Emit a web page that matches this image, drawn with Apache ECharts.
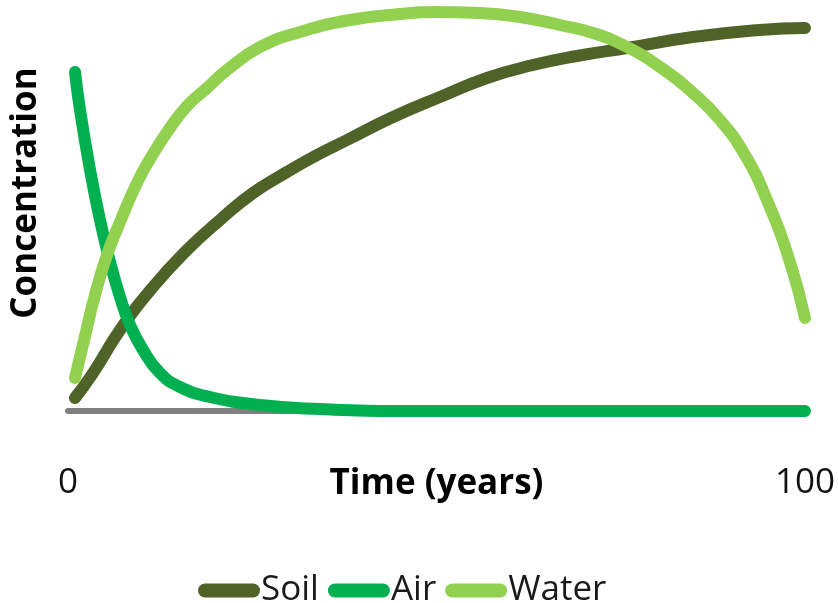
<!DOCTYPE html>
<html>
<head>
<meta charset="utf-8">
<script src="https://cdn.jsdelivr.net/npm/echarts@6/dist/echarts.min.js"></script>
<style>
html,body{margin:0;padding:0;background:#fff;}
#chart{width:838px;height:603px;}
</style>
</head>
<body>
<div id="chart"></div>
<script>
// Data (time in years, relative concentration 0-100)
const seriesNames = ['Soil', 'Air', 'Water'];
const xTicks = [0, 100];

const soilT = [0.95, 3.4, 7.06, 11.53, 16.15, 20.62, 25.1, 29.72, 33.79, 37.86, 44.1, 50.47, 56.85, 63.09, 69.06, 75.85, 84.8, 93.9, 100];
const soilV = [3.25, 9.5, 20.25, 31, 40.25, 47.75, 54.5, 59.75, 64, 67.75, 73.5, 78.5, 83.25, 86.5, 88.75, 90.75, 93.5, 95.25, 95.75];

const airT = [0.95, 1.63, 2.99, 4.34, 5.7, 7.06, 8.41, 10.18, 12.48, 15.2, 19.27, 26.05, 34.19, 45.05, 70, 100];
const airV = [84.75, 75.25, 60.25, 47.75, 37.25, 28.5, 21.5, 15.25, 9.5, 6, 3.5, 1.5, 0.5, 0, 0, 0];

const waterT = [0.95, 2.31, 3.66, 5.29, 7.06, 9.36, 11.53, 13.84, 16.15, 18.86, 21.57, 26.05, 31.48, 38.26, 45.05, 49.53, 55.9, 61.33, 66.76, 71.23, 75.85, 80.33, 84.8, 88.47, 91.86, 94.84, 97.96, 100];
const waterV = [8.25, 18.75, 29, 39, 47.25, 57, 64.25, 70.75, 76.25, 80.75, 85.25, 91, 94.75, 97.75, 99.25, 99.75, 99.5, 98.5, 96.5, 94.5, 91, 86, 79.5, 72.75, 64, 52.75, 37.25, 23.25];

const colors = { Soil: '#4f6228', Air: '#00b050', Water: '#92d050' };

function pairs(t, v) { return t.map((x, i) => [x, v[i]]); }

const pill = 'path://M7,0 L55,0 A7,7 0 0 1 55,14 L7,14 A7,7 0 0 1 7,0 Z';

const chart = echarts.init(document.getElementById('chart'), null, { renderer: 'canvas' });

function lineSeries(name, data) {
  return {
    name: name,
    type: 'line',
    data: data,
    smooth: 0.5,
    showSymbol: false,
    symbol: 'none',
    lineStyle: { color: colors[name], width: 12, cap: 'round', join: 'round' },
    itemStyle: { color: colors[name] },
    animation: false
  };
}

chart.setOption({
  backgroundColor: '#ffffff',
  textStyle: { fontFamily: 'Open Sans' },
  grid: { left: 68, right: 33, top: 11, bottom: 192, containLabel: false },
  legend: {
    left: 193,
    top: 568,
    itemWidth: 62,
    itemHeight: 15,
    itemGap: 9,
    icon: pill,
    data: seriesNames,
    textStyle: { fontFamily: 'Open Sans', fontSize: 35, color: '#1a1a1a', padding: [0, 0, 0, -4] }
  },
  xAxis: {
    type: 'value',
    min: 0,
    max: 100,
    interval: 100,
    name: 'Time (years)',
    nameLocation: 'middle',
    nameGap: 56,
    nameMoveOverlap: false,
    nameTextStyle: { fontFamily: 'Open Sans', fontWeight: 'bold', fontSize: 35, color: '#000' },
    axisLine: { show: true, lineStyle: { color: '#808080', width: 6 } },
    axisTick: { show: false },
    splitLine: { show: false },
    axisLabel: {
      fontFamily: 'Open Sans', fontSize: 35, color: '#111', margin: 55,
      formatter: function (v) { return xTicks.indexOf(v) >= 0 ? String(v) : ''; }
    }
  },
  yAxis: {
    type: 'value',
    min: 0,
    max: 100,
    name: 'Concentration',
    nameLocation: 'middle',
    nameRotate: 90,
    nameGap: 24,
    nameTextStyle: { fontFamily: 'Open Sans', fontWeight: 'bold', fontSize: 35, color: '#000', padding: [0, 0, 0, 36] },
    axisLine: { show: false },
    axisTick: { show: false },
    axisLabel: { show: false },
    splitLine: { show: false }
  },
  series: [
    lineSeries('Soil', pairs(soilT, soilV)),
    lineSeries('Air', pairs(airT, airV)),
    lineSeries('Water', pairs(waterT, waterV))
  ]
});
</script>
</body>
</html>
